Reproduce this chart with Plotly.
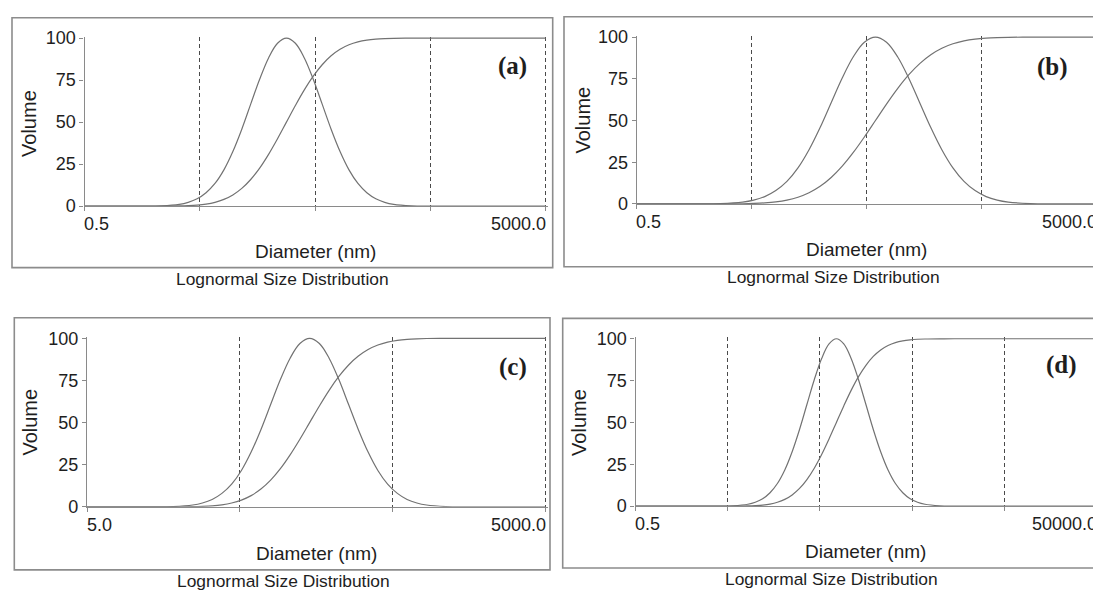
import math
import plotly.graph_objects as go

W, H = 1093, 600

# ---- data -----------------------------------------------------------------
# Relative volume (%) of the differential (bell) curve and of the cumulative
# curve at successive sampled diameters (same sampled profile in each panel).
FREQ = [0, 0.0, 0.2, 1.1, 2.3, 4.4, 8.0, 13.5, 21.6, 32.5, 45.8, 60.7, 75.5, 88.2, 96.9, 100,
        96.9, 88.2, 75.5, 60.7, 45.8, 32.5, 21.6, 13.5, 8.0, 4.4, 2.3, 1.1, 0.2, 0.0, 0]
CUM = [0, 0.0, 0.02, 0.13, 0.30, 0.62, 1.22, 2.28, 4.01, 6.68, 10.56, 15.87, 22.66, 30.85, 40.13, 50,
       59.87, 69.15, 77.34, 84.13, 89.44, 93.32, 95.99, 97.72, 98.78, 99.38, 99.70, 99.87, 99.98, 100, 100]

# Diameters (nm) of the sampled points, one list per panel
DIAM_A = [0.5, 1.622, 2.317, 3.311, 3.959, 4.732, 5.655, 6.761, 8.081, 9.661, 11.55, 13.80, 16.50,
          19.72, 23.58, 28.18, 33.69, 40.27, 48.14, 57.54, 68.79, 82.22, 98.29, 117.5, 140.4, 167.9,
          200.7, 239.9, 342.8, 489.8, 5000]
DIAM_B = [0.5, 1.718, 2.676, 4.169, 5.203, 6.494, 8.105, 10.12, 12.63, 15.76, 19.67, 24.55, 30.64,
          38.24, 47.72, 59.57, 74.33, 92.79, 115.8, 144.5, 180.4, 225.1, 281.0, 350.8, 437.8, 546.5,
          682.1, 851.1, 1326, 2065, 5000]
DIAM_C = [5.0, 13.65, 18.30, 24.55, 28.43, 32.92, 38.13, 44.16, 51.14, 59.22, 68.59, 79.43, 91.99,
          106.5, 123.4, 142.9, 165.5, 191.6, 222.0, 257.0, 297.7, 344.7, 399.3, 462.4, 535.6, 620.2,
          718.3, 831.8, 1116, 1496, 5000]
DIAM_D = [0.5, 3.963, 5.728, 8.279, 9.954, 11.97, 14.39, 17.30, 20.80, 25.00, 30.06, 36.14, 43.45,
          52.24, 62.81, 75.51, 90.78, 109.1, 131.2, 157.8, 189.7, 228.0, 274.2, 329.6, 396.3, 476.4,
          572.8, 688.7, 995.4, 1439, 50000]

PANEL_LABELS = ["(a)", "(b)", "(c)", "(d)"]
X_RANGES = [(0.5, 5000), (0.5, 5000), (5.0, 5000), (0.5, 50000)]
X_END_LABELS = [("0.5", "5000.0"), ("0.5", "5000.0"), ("5.0", "5000.0"), ("0.5", "50000.0")]
DECADES = [[0.5, 5, 50, 500, 5000], [0.5, 5, 50, 500, 5000], [5, 50, 500, 5000],
           [0.5, 5, 50, 500, 5000, 50000]]
Y_TICKS = [0, 25, 50, 75, 100]
X_TITLE = "Diameter (nm)"
Y_TITLE = "Volume"
CAPTION = "Lognormal Size Distribution"

# ---- layout (pixels) --------------------------------------------------------
# plot area: x of axis start / end, y of value 100 / value 0
GEOM = [
    dict(px=(84.6, 545.7), py=(31.0, 204.3), box=(12, 10, 552.7, 267.7),
         vol=(29.5, 119), dia=(315.5, 251.5), cap=(282, 279.3), tl_y=222.7, lab=(512.5, 60)),
    dict(px=(636.7, 1096.7), py=(30.0, 202.0), box=(564, 9, 1110, 266.7),
         vol=(583, 116), dia=(866.8, 249.3), cap=(833.3, 277.3), tl_y=220.5, lab=(1052.5, 61)),
    dict(px=(87.0, 545.7), py=(340.5, 514.3), box=(14.3, 319.3, 550, 579.3),
         vol=(30.4, 427), dia=(316.6, 562.3), cap=(283.6, 590.7), tl_y=533.0, lab=(512.7, 370)),
    dict(px=(635.5, 1096.5), py=(341.0, 513.5), box=(562.7, 320, 1110, 577.3),
         vol=(578.7, 427), dia=(865.3, 560.7), cap=(831.8, 588.7), tl_y=532.3, lab=(1061.7, 368)),
]

CURVE = "#727272"
AXIS = "#8a8a8a"
GRID = "#4a4a4a"
TEXT = "#1e1e1e"
FONT = "Liberation Sans, Arial, sans-serif"
SERIF = "Liberation Serif, Times New Roman, serif"


def fx(p):
    return p / W


def fy(p):
    return 1 - p / H


fig = go.Figure()
diams = [DIAM_A, DIAM_B, DIAM_C, DIAM_D]
annotations = []
shapes = []

for i, g in enumerate(GEOM):
    n = "" if i == 0 else str(i + 1)
    xmin, xmax = X_RANGES[i]
    lo, hi = math.log10(xmin), math.log10(xmax)
    x0, x1 = g["px"]
    dom_end = min(x1 + 2.2, W)
    r_end = lo + (hi - lo) * (dom_end - x0) / (x1 - x0)

    y100, y0 = g["py"]
    scale = (y0 - y100) / 100.0
    top_val = 100.8
    top_px = y0 - top_val * scale

    for vals in (FREQ, CUM):
        fig.add_trace(go.Scatter(
            x=diams[i], y=vals, mode="lines",
            line=dict(color=CURVE, width=1.2, shape="spline", smoothing=1.0),
            xaxis="x" + n, yaxis="y" + n, showlegend=False, hoverinfo="skip"))

    fig.layout["xaxis" + n] = dict(
        type="log", range=[lo, r_end], domain=[fx(x0), fx(dom_end)], anchor="y" + n,
        tickmode="array", tickvals=DECADES[i], showticklabels=False,
        ticks="outside", ticklen=4, tickwidth=1, tickcolor=AXIS,
        showgrid=True, gridcolor=GRID, gridwidth=1, griddash="4px,3px",
        showline=True, linecolor=AXIS, linewidth=1.3, zeroline=False, fixedrange=True)
    fig.layout["yaxis" + n] = dict(
        range=[0, top_val], domain=[fy(y0), fy(top_px)], anchor="x" + n,
        tickmode="array", tickvals=Y_TICKS, ticktext=[str(t) for t in Y_TICKS],
        ticks="outside", ticklen=4, tickwidth=1, tickcolor=AXIS,
        tickfont=dict(family=FONT, size=18, color=TEXT),
        showgrid=False, showline=True, linecolor=AXIS, linewidth=1.3,
        zeroline=False, fixedrange=True)

    bx0, by0, bx1, by1 = g["box"]
    shapes.append(dict(type="rect", xref="paper", yref="paper",
                       x0=fx(bx0), x1=fx(bx1), y0=fy(by1), y1=fy(by0),
                       line=dict(color="#8c8c8c", width=1.6), layer="below"))

    def ann(text, x, y, size, xanchor="center", family=FONT, bold=False, angle=0):
        annotations.append(dict(
            text=("<b>%s</b>" % text) if bold else text, x=fx(x), y=fy(y),
            xref="paper", yref="paper", xanchor=xanchor, yanchor="middle",
            showarrow=False, textangle=angle, borderpad=0,
            font=dict(family=family, size=size, color=TEXT)))

    left_lab, right_lab = X_END_LABELS[i]
    ann(left_lab, x0 - 1.5, g["tl_y"], 18, xanchor="left")
    ann(right_lab, x1 + 1.5, g["tl_y"], 18, xanchor="right")
    ann(Y_TITLE, g["vol"][0], g["vol"][1], 20, angle=-90)
    ann(X_TITLE, g["dia"][0], g["dia"][1], 19)
    ann(CAPTION, g["cap"][0], g["cap"][1], 17.4)
    ann(PANEL_LABELS[i], g["lab"][0], g["lab"][1], 25, family=SERIF, bold=True)

fig.update_layout(
    width=W, height=H, margin=dict(l=0, r=0, t=0, b=0),
    paper_bgcolor="white", plot_bgcolor="white",
    annotations=annotations, shapes=shapes, showlegend=False)

fig.write_html("out.html", config={"displayModeBar": False})
